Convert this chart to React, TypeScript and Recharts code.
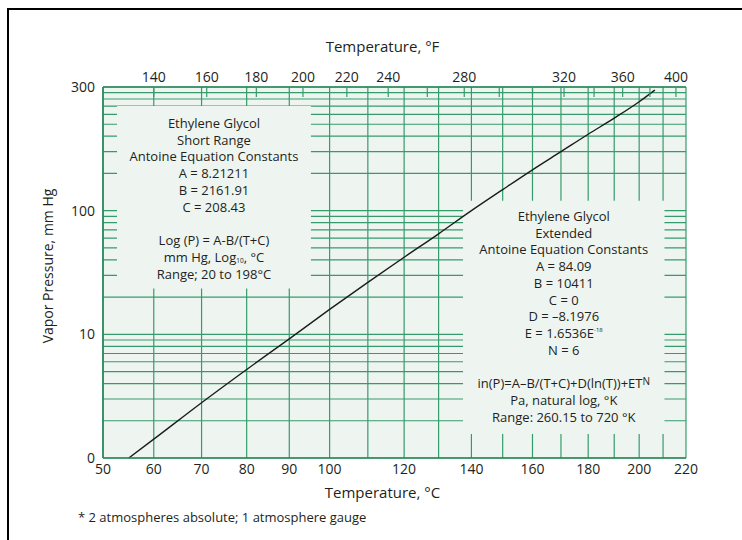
import { LineChart, Line, XAxis, YAxis, CartesianGrid, ReferenceArea } from 'recharts'

const FONT = '"Open Sans", "Noto Sans", sans-serif'
const INK = '#231f20'
const GRID = '#369b6b'
const FRAME = '#2a875a'
const BG = '#eef5f1'

// points: temperature (°C) -> vapour pressure (mm Hg)
const tempC = [55, 60, 70, 80, 90, 100, 110, 120, 130, 140, 150, 160, 170, 180, 190, 200, 206.5]
const pressure = [1.0, 1.42, 2.8, 5.2, 9.2, 15.9, 26.3, 42, 65, 100, 148, 214, 300, 415, 560, 760, 945]

// bottom axis (°C): a gridline every 10, only some labelled
const cTicks = [50, 60, 70, 80, 90, 100, 110, 120, 130, 140, 150, 160, 170, 180, 190, 200, 210, 220]
const cLabels = [50, 60, 70, 80, 90, 100, 120, 140, 160, 180, 200, 220]

// top axis (°F) tick marks, with the labels as printed on the original
const fTicks = [140, 160, 180, 200, 220, 240, 260, 280, 300, 320, 340, 360, 380, 400, 420]
const fLabels: Record<number, string> = {
  140: '140', 160: '160', 180: '180', 200: '200', 220: '220', 240: '240',
  280: '280', 340: '320', 380: '360', 420: '400',
}

// log gridlines on the pressure axis
const pTicks = [1, 2, 3, 4, 5, 6, 7, 8, 9, 10, 20, 30, 40, 50, 60, 70, 80, 90, 100, 200, 300, 400, 500, 600, 700, 800, 900, 1000]
const pLabels: Record<number, string> = { 1: '0', 10: '10', 100: '100', 1000: '300' }

const shortRange = [
  'Ethylene Glycol',
  'Short Range',
  'Antoine Equation Constants',
  'A = 8.21211',
  'B = 2161.91',
  'C = 208.43',
  '',
  'Log (P) = A-B/(T+C)',
  'mm Hg, Log_{10}, °C',
  'Range; 20 to 198°C',
]

const extended = [
  'Ethylene Glycol',
  'Extended',
  'Antoine Equation Constants',
  'A = 84.09',
  'B = 10411',
  'C = 0',
  'D = –8.1976',
  'E = 1.6536E^{-18}',
  'N = 6',
  '',
  'in(P)=A–B/(T+C)+D(ln(T))+ET^{N}',
  'Pa, natural log, °K',
  'Range: 260.15 to 720 °K',
]

// x axis is 1/T (absolute), so work in that space
const inv = (c: number) => -1000 / (c + 273.15)
const toC = (u: number) => -1000 / u - 273.15

const data = tempC.map((t, i) => ({ u: inv(t), p: pressure[i] }))
const xDomain = [inv(50), inv(220)]

function richLine(s: string, key: number, x: number, y: number) {
  const parts = s.split(/(_\{[^}]*\}|\^\{[^}]*\})/).filter(Boolean)
  let shift = 0
  return (
    <text key={key} x={x} y={y} textAnchor="middle" dominantBaseline="central"
      fontSize={13} fill={INK} fontFamily={FONT}>
      {parts.map((p, i) => {
        let d = 0
        if (p.startsWith('_{')) {
          d = 3 - shift; shift = 3
          return <tspan key={i} dy={d} fontSize={6.5}>{p.slice(2, -1)}</tspan>
        }
        if (p.startsWith('^{')) {
          const small = p.length > 5
          const up = small ? -3 : -2
          d = up - shift; shift = up
          return <tspan key={i} dy={d} fontSize={small ? 6 : 10}>{p.slice(2, -1)}</tspan>
        }
        d = -shift; shift = 0
        return <tspan key={i} dy={d}>{p}</tspan>
      })}
    </text>
  )
}

const boxText = (lines: string[], padTop: number) => (props: any) => {
  const vb = props.viewBox
  const cx = vb.x + vb.width / 2
  return (
    <g>
      {lines.map((ln, i) => (ln ? richLine(ln, i, cx, vb.y + padTop + i * 16.75) : null))}
    </g>
  )
}

const TopTick = (props: any) => {
  const { x, y, payload } = props
  const f = Math.round(toC(payload.value) * 9 / 5 + 32)
  return (
    <g>
      <line x1={x} x2={x} y1={y} y2={y + 10} stroke={GRID} strokeWidth={1.2} />
      <text x={x} y={y - 5} textAnchor="middle" fontSize={14} fill={INK} fontFamily={FONT}>
        {fLabels[f] ?? ''}
      </text>
    </g>
  )
}

const tickStyle = { fontSize: 14, fill: INK, fontFamily: FONT }

export default function App() {
  return (
    <div style={{ position: 'fixed', left: 0, top: 0, width: 742, height: 540, overflow: 'hidden', background: '#fff', fontFamily: FONT, color: INK }}>
      <div style={{ position: 'absolute', left: 7, top: 8, width: 800, height: 600, border: '2px solid #000', boxSizing: 'border-box' }} />
      <div style={{ position: 'absolute', left: 0, top: 0 }}>
        <LineChart width={742} height={540} data={data} margin={{ top: 57, right: 56, bottom: 52, left: 0 }}>
          <CartesianGrid xAxisId="bottom" stroke={GRID} strokeWidth={1.2} fill={BG} fillOpacity={1} />
          <ReferenceArea xAxisId="bottom" x1={inv(52.7)} x2={inv(95.3)} y1={23.5} y2={703}
            fill={BG} fillOpacity={1} stroke="none" ifOverflow="visible"
            label={{ content: boxText(shortRange, 17) }} />
          <ReferenceArea xAxisId="bottom" x1={inv(137.4)} x2={inv(210.6)} y1={1.56} y2={120}
            fill={BG} fillOpacity={1} stroke="none" ifOverflow="visible"
            label={{ content: boxText(extended, 15) }} />
          <XAxis xAxisId="bottom" dataKey="u" type="number" domain={xDomain} allowDataOverflow
            ticks={cTicks.map(inv)} interval={0} height={30}
            tickFormatter={(v: number) => {
              const c = Math.round(toC(v))
              return cLabels.includes(c) ? String(c) : ''
            }}
            tickSize={0} tickMargin={6} tick={tickStyle}
            axisLine={{ stroke: FRAME, strokeWidth: 1.6 }} />
          <XAxis xAxisId="top" orientation="top" dataKey="u" type="number" domain={xDomain} allowDataOverflow
            ticks={fTicks.map((f) => inv((f - 32) * 5 / 9))} interval={0} height={30}
            tickSize={0} tickMargin={0} tick={<TopTick />}
            axisLine={{ stroke: FRAME, strokeWidth: 1.6 }} />
          <YAxis scale="log" type="number" domain={[1, 1000]} allowDataOverflow
            ticks={pTicks} interval={0} width={103}
            tickFormatter={(v: number) => pLabels[v] ?? ''}
            tickSize={0} tickMargin={8} tick={tickStyle}
            axisLine={{ stroke: FRAME, strokeWidth: 1.6 }} />
          <Line xAxisId="bottom" dataKey="p" type="monotone" stroke="#1c1c1c" strokeWidth={1.4}
            dot={false} isAnimationActive={false} />
        </LineChart>
      </div>
      <div style={{ position: 'absolute', left: 0, width: 765, top: 36, textAlign: 'center', fontSize: 15, lineHeight: '20px' }}>
        Temperature, °F
      </div>
      <div style={{ position: 'absolute', left: 0, width: 765, top: 482, textAlign: 'center', fontSize: 15, lineHeight: '20px' }}>
        Temperature, °C
      </div>
      <div style={{ position: 'absolute', left: 48, top: 266, transform: 'translate(-50%, -50%) rotate(-90deg)', whiteSpace: 'nowrap', fontSize: 14, lineHeight: '18px' }}>
        Vapor Pressure, mm Hg
      </div>
      <div style={{ position: 'absolute', left: 78, top: 508, fontSize: 13, lineHeight: '18px', whiteSpace: 'nowrap' }}>
        * 2 atmospheres absolute; 1 atmosphere gauge
      </div>
    </div>
  )
}
